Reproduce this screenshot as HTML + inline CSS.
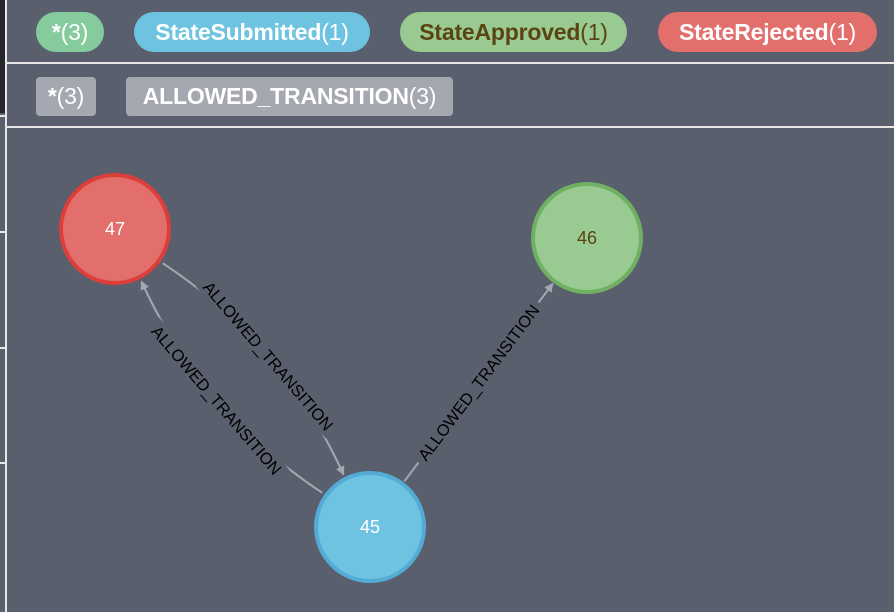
<!DOCTYPE html>
<html><head><meta charset="utf-8"><style>
html,body{margin:0;padding:0;width:894px;height:612px;overflow:hidden;background:#595f6c;font-family:"Liberation Sans",sans-serif}
.pill{position:absolute;height:40px;line-height:40px;text-align:center;font-size:23px;color:#fff;white-space:nowrap;letter-spacing:-0.2px}
.pill b{font-weight:bold}
.sep{position:absolute;left:6px;right:0;height:2px;background:#e6e6e6}
</style></head><body>
<div style="position:absolute;left:0;top:0;width:5px;height:113px;background:#25262b"></div>
<div style="position:absolute;left:5px;top:0;width:2px;height:612px;background:#e6e6e6"></div>
<div style="position:absolute;left:0;top:115px;width:5px;height:2px;background:#e6e6e6"></div>
<div style="position:absolute;left:0;top:231px;width:5px;height:2px;background:#e6e6e6"></div>
<div style="position:absolute;left:0;top:347px;width:5px;height:2px;background:#e6e6e6"></div>
<div style="position:absolute;left:0;top:462px;width:5px;height:2px;background:#e6e6e6"></div>

<div class="pill" style="left:36px;top:12px;width:68px;border-radius:20px;background:#86cb9d"><b>*</b>(3)</div>
<div class="pill" style="left:134px;top:12px;width:236px;border-radius:20px;background:#6ec3e0"><b>StateSubmitted</b>(1)</div>
<div class="pill" style="left:400px;top:12px;width:227px;border-radius:20px;background:#98ca92;color:#5a4512"><b>StateApproved</b>(1)</div>
<div class="pill" style="left:658px;top:12px;width:219px;border-radius:20px;background:#e36f6d"><b>StateRejected</b>(1)</div>
<div class="sep" style="top:62px"></div>
<div class="pill" style="left:36px;top:77px;width:60px;height:39px;line-height:39px;border-radius:4px;background:#a5a8b1"><b>*</b>(3)</div>
<div class="pill" style="left:126px;top:77px;width:327px;height:39px;line-height:39px;border-radius:4px;background:#a5a8b1"><b>ALLOWED_TRANSITION</b>(3)</div>
<div class="sep" style="top:126px"></div>

<svg id="g" width="894" height="612" style="position:absolute;left:0;top:0" xmlns="http://www.w3.org/2000/svg">
<defs><marker id="ar" viewBox="0 0 10 10" refX="9" refY="5" markerWidth="4.5" markerHeight="4.5" orient="auto"><path d="M0,0L10,5L0,10z" fill="#a5a8b1"/></marker></defs>
</svg>
<script>
const nodeIds=["47","46","45"];
const nodeX=[115,587,370];
const nodeY=[229,238,527];
const nodeFill=["#e36f6d","#98ca92","#6ec3e0"];
const nodeStroke=["#dc3f3a","#6fb062","#54acd6"];
const nodeText=["#fff","#5a4512","#fff"];
const edgeFrom=[0,2,2];
const edgeTo=[2,0,1];
const edgeBend=[-1,-1,0];
const edgeLabel=["ALLOWED_TRANSITION","ALLOWED_TRANSITION","ALLOWED_TRANSITION"];
const R=56,NS="http://www.w3.org/2000/svg",END_OFF=14,MID_OFF=34;
const svg=document.getElementById('g');
function mk(t,a){const e=document.createElementNS(NS,t);for(const k in a)e.setAttribute(k,a[k]);return e;}
for(let i=0;i<edgeFrom.length;i++){
  const a=edgeFrom[i],b=edgeTo[i];
  const x1=nodeX[a],y1=nodeY[a],x2=nodeX[b],y2=nodeY[b];
  const dx=x2-x1,dy=y2-y1,L=Math.hypot(dx,dy),ux=dx/L,uy=dy/L;
  const px=-uy,py=ux,s=edgeBend[i];
  const eo=END_OFF*s,mo=MID_OFF*s,co=2*mo-eo;
  const sx=x1+ux*(R+1)+px*eo,sy=y1+uy*(R+1)+py*eo,ex=x2-ux*(R+1)+px*eo,ey=y2-uy*(R+1)+py*eo;
  const cx=(sx+ex)/2+px*(co-eo),cy=(sy+ey)/2+py*(co-eo);
  const mx=(x1+x2)/2+px*mo,my=(y1+y2)/2+py*mo;
  const p=mk('path',{d:`M${sx},${sy}Q${cx},${cy} ${ex},${ey}`,fill:'none',stroke:'#a5a8b1','stroke-width':2,'marker-end':'url(#ar)'});
  
  
  svg.appendChild(p);
  let ang=Math.atan2(uy,ux)*180/Math.PI;if(ang>90)ang-=180;if(ang<-90)ang+=180;
  const bg=mk('rect',{x:mx-100,y:my-10,width:200,height:20,fill:'#595f6c',transform:`rotate(${ang} ${mx} ${my})`});
  
  
  svg.appendChild(bg);
  const t=mk('text',{x:mx,y:my+6,'text-anchor':'middle','font-size':16.5,fill:'#000','font-family':'Liberation Sans, sans-serif',transform:`rotate(${ang} ${mx} ${my})`});
  t.textContent=edgeLabel[i];
  
  
  svg.appendChild(t);
}
for(let i=0;i<nodeIds.length;i++){
  const c=mk('circle',{cx:nodeX[i],cy:nodeY[i],r:R-2,fill:nodeFill[i],stroke:nodeStroke[i],'stroke-width':4});
  
  
  svg.appendChild(c);
  const t=mk('text',{x:nodeX[i],y:nodeY[i]+6,'text-anchor':'middle','font-size':18,fill:nodeText[i],'font-family':'Liberation Sans, sans-serif'});
  t.textContent=nodeIds[i];
  
  
  svg.appendChild(t);
}
</script>
</body></html>
